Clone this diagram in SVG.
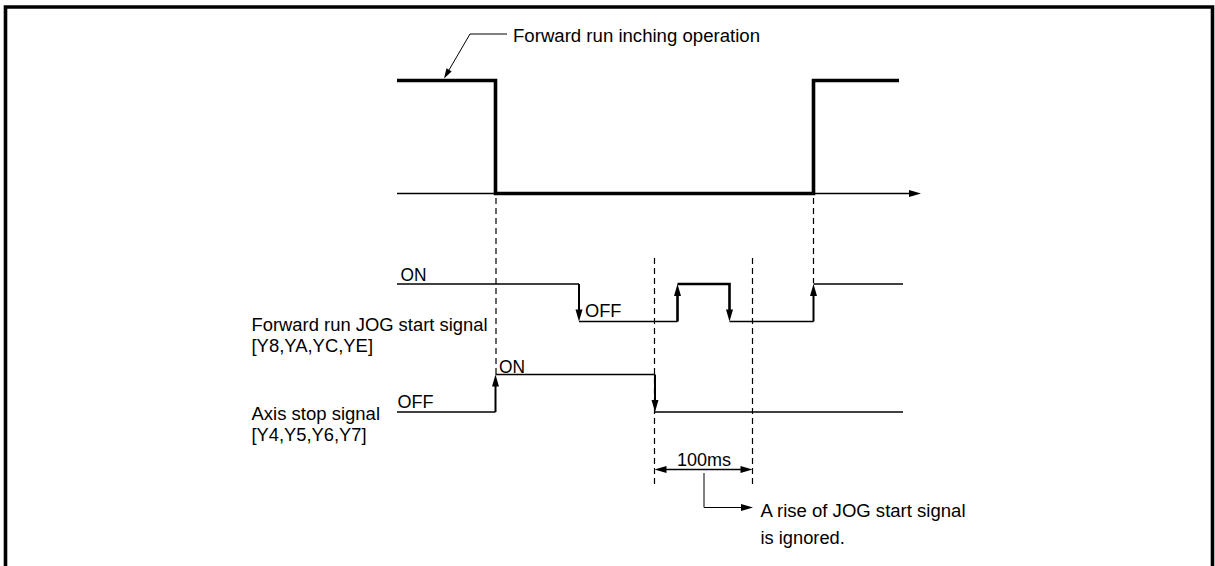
<svg xmlns="http://www.w3.org/2000/svg" width="1215" height="566" viewBox="0 0 1215 566">
<style>
text{font-family:"Liberation Sans",Arial,sans-serif;font-size:17.5px;fill:#000}
.thin{stroke:#000;stroke-width:1.4;fill:none}
.mid{stroke:#000;stroke-width:2;fill:none}
.thick{stroke:#000;stroke-width:2.6;fill:none}
.bold{stroke:#000;stroke-width:3.6;fill:none}
.dash{stroke:#000;stroke-width:1.2;stroke-dasharray:6 4;fill:none}
.lead{stroke:#000;stroke-width:1;fill:none}
.ah{fill:#000}
</style>
<defs>
<path id="ah" d="M0,0 L-3.5,-12 L3.5,-12 Z"/>
<path id="ahs" d="M0,0 L-3,-10 L3,-10 Z"/>
</defs>
<rect width="1215" height="566" fill="#fff"/>
<g id="frame">
<path class="bold" d="M5.5,566 V7 H1212.5 V566"/>
</g>
<g id="inching-operation">
<path class="thin" d="M397,193.5 H910"/>
<use href="#ah" class="ah" transform="translate(921,193.5) rotate(-90)"/>
<path class="bold" d="M397,80.5 H495.5 V193.5 H813.5 V80.5 H899"/>
<text x="513" y="42" textLength="247" lengthAdjust="spacingAndGlyphs">Forward run inching operation</text>
</g>
<g id="jog-start-signal">
<path class="thin" d="M397,284 H579"/>
<path class="mid" d="M579,284 V312"/>
<use href="#ah" class="ah" transform="translate(579,321.5)"/>
<path class="thin" d="M579,321.5 H677.5"/>
<path class="thick" d="M677.5,321.5 V293"/>
<use href="#ah" class="ah" transform="translate(677.5,284) rotate(180)"/>
<path class="thick" d="M677.5,284 H729.5 V312"/>
<use href="#ah" class="ah" transform="translate(729.5,321.5)"/>
<path class="thin" d="M729.5,321.5 H813.5"/>
<path class="mid" d="M813.5,321.5 V293"/>
<use href="#ah" class="ah" transform="translate(813.5,284) rotate(180)"/>
<path class="thin" d="M813.5,284 H903"/>
<text x="400.5" y="280.5" textLength="26" lengthAdjust="spacingAndGlyphs">ON</text>
<text x="585" y="317" textLength="36.5" lengthAdjust="spacingAndGlyphs">OFF</text>
<text x="251.5" y="330.5" textLength="236" lengthAdjust="spacingAndGlyphs">Forward run JOG start signal</text>
<text x="251.5" y="351.5" textLength="121.5" lengthAdjust="spacingAndGlyphs">[Y8,YA,YC,YE]</text>
</g>
<g id="axis-stop-signal">
<path class="thin" d="M397,412 H495.5"/>
<path class="mid" d="M495.5,412 V383"/>
<use href="#ah" class="ah" transform="translate(495.5,374.5) rotate(180)"/>
<path class="thin" d="M495.5,374.5 H655"/>
<path class="mid" d="M655,374.5 V403"/>
<use href="#ah" class="ah" transform="translate(655,412)"/>
<path class="thin" d="M655,412 H903"/>
<text x="397.5" y="408" textLength="36" lengthAdjust="spacingAndGlyphs">OFF</text>
<text x="499" y="372.5" textLength="26" lengthAdjust="spacingAndGlyphs">ON</text>
<text x="251.5" y="420" textLength="128.5" lengthAdjust="spacingAndGlyphs">Axis stop signal</text>
<text x="251.5" y="441" textLength="115" lengthAdjust="spacingAndGlyphs">[Y4,Y5,Y6,Y7]</text>
</g>
<g id="timing-100ms">
<text x="677" y="466" textLength="54" lengthAdjust="spacingAndGlyphs">100ms</text>
<text x="760.5" y="516.5" textLength="205" lengthAdjust="spacingAndGlyphs">A rise of JOG start signal</text>
<text x="760.5" y="544" textLength="84.3" lengthAdjust="spacingAndGlyphs">is ignored.</text>
</g>
<g id="connectors">
<path class="dash" d="M496,198 V374"/>
<path class="dash" d="M813.5,198 V283"/>
<path class="dash" d="M654.5,258 V484"/>
<path class="dash" d="M752.5,258 V484"/>
<path class="thin" d="M664,469.5 H743"/>
<use href="#ah" class="ah" transform="translate(654.5,469.5) rotate(90)"/>
<use href="#ah" class="ah" transform="translate(752.5,469.5) rotate(-90)"/>
<path class="lead" d="M704,473 V507.5 H743"/>
<use href="#ah" class="ah" transform="translate(753,507.5) rotate(-90)"/>
<path class="lead" d="M507,34 H470 L449,70"/>
<use href="#ahs" class="ah" transform="translate(444,78.5) rotate(30.6)"/>
</g>
</svg>
